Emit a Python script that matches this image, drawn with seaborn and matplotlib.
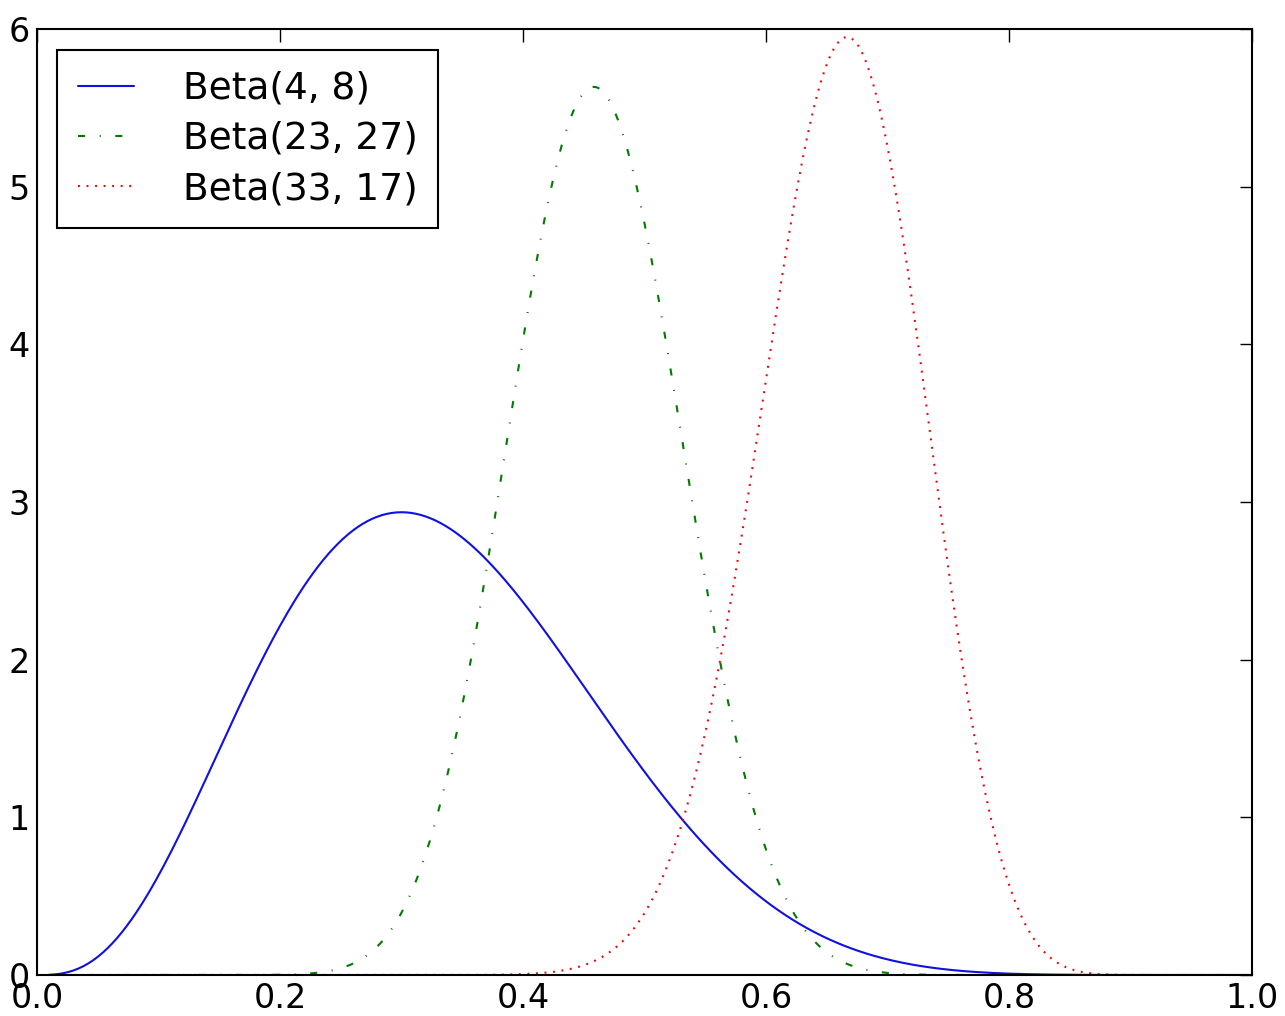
import numpy as np
import pandas as pd
import matplotlib
matplotlib.use("Agg")
import matplotlib.pyplot as plt
import seaborn as sns
from math import lgamma

# Distribution parameters as labelled in the legend
labels = ["Beta(4, 8)", "Beta(23, 27)", "Beta(33, 17)"]
alphas = [4, 23, 33]
betas = [8, 27, 17]
colors = ["#1010e0", "#007a00", "#f00000"]
styles = ["-", (0, (3.4, 7, 0.5, 7)), (0, (0.9, 3.2))]
x_vals = np.arange(0.01, 1.0, 0.002)
xticks = [0.0, 0.2, 0.4, 0.6, 0.8, 1.0]
yticks = [0, 1, 2, 3, 4, 5, 6]


def beta_pdf(x, a, b):
    lb = lgamma(a) + lgamma(b) - lgamma(a + b)
    return np.exp((a - 1) * np.log(x) + (b - 1) * np.log(1 - x) - lb)


rows = []
for lab, a, b in zip(labels, alphas, betas):
    for xv, yv in zip(x_vals, beta_pdf(x_vals, a, b)):
        rows.append({"x": xv, "density": yv, "dist": lab})
df = pd.DataFrame(rows)

sns.set_style("white")
plt.rcParams["font.family"] = ["DejaVu Sans"]
plt.rcParams["text.color"] = "black"

fig = plt.figure(figsize=(12.85, 10.16), dpi=100)
ax = fig.add_axes([37 / 1285, (1016 - 975) / 1016, (1252 - 37) / 1285, (975 - 29) / 1016])

for lab, c, ls in zip(labels, colors, styles):
    sub = df[df["dist"] == lab]
    sns.lineplot(data=sub, x="x", y="density", ax=ax, color=c, linestyle=ls,
                 linewidth=1.5, label=lab)

ax.set_xlim(0, 1)
ax.set_ylim(0, 6)
ax.set_xticks(xticks)
ax.set_xticklabels([f"{t:.1f}" for t in xticks])
ax.set_yticks(yticks)
ax.set_xlabel("")
ax.set_ylabel("")
ax.tick_params(direction="in", length=9, width=1, top=True, right=True,
               labelsize=24, pad=5, colors="black")
for sp in ax.spines.values():
    sp.set_visible(True)
    sp.set_color("black")
    sp.set_linewidth(1.5)

leg = ax.legend(loc="upper left", fontsize=27, frameon=True, fancybox=False,
                edgecolor="black", framealpha=1, borderpad=0.55,
                handlelength=1.5, handletextpad=1.3, labelspacing=0.38,
                borderaxespad=0, bbox_to_anchor=((57 - 37) / 1215, (975 - 50) / 946))
leg.get_frame().set_linewidth(1.5)
for t in leg.get_texts():
    t.set_color("black")

fig.savefig("out.png", dpi=100)
